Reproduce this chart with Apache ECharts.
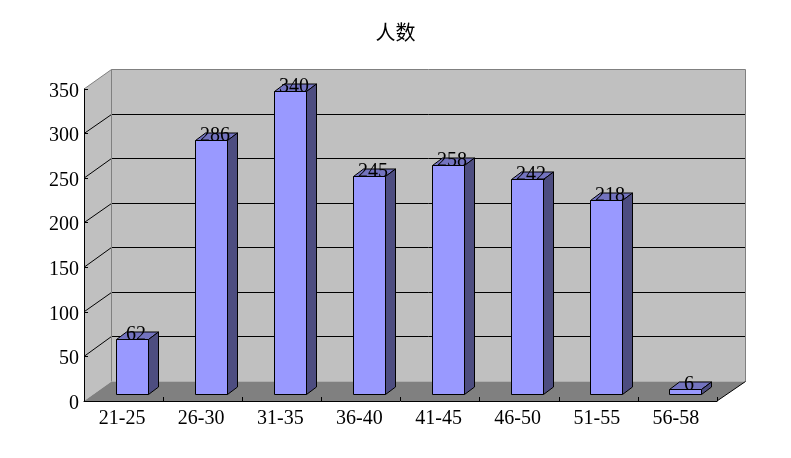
<!DOCTYPE html>
<html>
<head>
<meta charset="utf-8">
<style>html,body{margin:0;padding:0;background:#fff}#c{width:791px;height:458px}</style>
<script src="https://cdn.jsdelivr.net/npm/echarts@6/dist/echarts.min.js"></script>
</head>
<body>
<div id="c"></div>
<script>
const titleText = '人数';
const categories = ['21-25','26-30','31-35','36-40','41-45','46-50','51-55','56-58'];
const values = [62,286,340,245,258,242,218,6];
const yTicks = [0,50,100,150,200,250,300,350];

const wallDXL = 27, wallDXR = 28, wallDY = -20; // depth of the 3D box
const barDX = 10, barDY = -7.5;        // depth of one bar
const barOffX = 8, barOffY = -7;       // bar base set back from the front edge
const barWidth = 32;
const serif = '"Liberation Serif","DejaVu Serif",serif';
const crisp = v => Math.round(v) + 0.5;

function poly(points, fill, stroke) {
  return {type:'polygon', shape:{points}, style:{fill, stroke:stroke||null, lineWidth:1}};
}
function line(a, b, stroke) {
  return {type:'line', shape:{x1:a[0],y1:a[1],x2:b[0],y2:b[1]}, style:{stroke, lineWidth:1}};
}

function renderWalls(params, api) {
  const cs = params.coordSys;
  const L = cs.x, R = cs.x + cs.width, T = cs.y, B = cs.y + cs.height;
  const bL = crisp(L + wallDXL), bR = crisp(R + wallDXR), bT = crisp(T + wallDY), bB = crisp(B + wallDY);
  const children = [
    poly([[L,T],[bL,bT],[bL,bB],[L,B]], '#C0C0C0'),
    poly([[bL,bT],[bR,bT],[bR,bB],[bL,bB]], '#C0C0C0'),
    poly([[L,B],[bL,bB],[bR,bB],[R,B]], '#808080')
  ];
  yTicks.forEach(t => {
    if (t === 0 || t === yTicks[yTicks.length-1]) return;
    const y = api.coord([0,t])[1];
    children.push(line([L,y],[bL,crisp(y+wallDY)],'#000'));
    children.push(line([bL,crisp(y+wallDY)],[bR,crisp(y+wallDY)],'#000'));
  });
  children.push(line([L,T],[bL,bT],'#808080'));
  children.push(line([bL,bT],[bR,bT],'#808080'));
  children.push(line([bL,bT],[bL,bB],'#808080'));
  children.push(line([bR,bT],[bR,bB],'#808080'));
  children.push(line([R,B],[bR,bB],'#000'));
  return {type:'group', children};
}

function renderBar(params, api) {
  const i = api.value(0), v = api.value(1);
  const base = api.coord([i,0]), top = api.coord([i,v]);
  const x0 = Math.round(base[0] + barOffX - barWidth/2) + 0.5;
  const x1 = x0 + barWidth;
  const yB = Math.round(base[1] + barOffY) + 0.5;
  const yT = Math.round(top[1] + barOffY + 0.5) + 0.5;
  const stroke = '#000';
  return {type:'group', children:[
    poly([[x0,yT],[x0+barDX,yT+barDY],[x1+barDX,yT+barDY],[x1,yT]], '#7373BF', stroke),
    poly([[x1,yT],[x1+barDX,yT+barDY],[x1+barDX,yB+barDY],[x1,yB]], '#4D4D80', stroke),
    poly([[x0,yT],[x1,yT],[x1,yB],[x0,yB]], '#9999FF', stroke),
    {type:'text', style:{text:String(v), x:(x0+x1)/2+3.5, y:yT-4.5, align:'center', verticalAlign:'middle',
      font:'20px '+serif, fill:'#000'}}
  ]};
}

const chart = echarts.init(document.getElementById('c'), null, {renderer:'canvas'});
chart.setOption({
  animation:false,
  backgroundColor:'#fff',
  title:{text:titleText, left:'center', top:17, textStyle:{fontFamily:'"Noto Sans CJK SC"', fontSize:20, fontWeight:'normal', color:'#000'}},
  grid:{left:84, top:89, width:633, height:312},
  xAxis:{type:'category', data:categories, z:5,
    axisLine:{show:true,lineStyle:{color:'#000',width:1}},
    axisTick:{show:true,inside:true,length:4,lineStyle:{color:'#000'}},
    axisLabel:{fontFamily:serif,fontSize:20,color:'#000',margin:8,interval:0,padding:[0,3,0,0]},
    splitLine:{show:false}},
  yAxis:{type:'value', min:0, max:350, interval:50, z:5,
    axisLine:{show:true,lineStyle:{color:'#000',width:1}},
    axisTick:{show:true,inside:true,length:4,lineStyle:{color:'#000'}},
    axisLabel:{fontFamily:serif,fontSize:20,color:'#000',margin:5,verticalAlign:'top',lineHeight:5},
    splitLine:{show:false}},
  series:[
    {type:'custom', name:'walls', z:1, silent:true, renderItem:renderWalls, data:[[0,0]], encode:{x:0,y:1}},
    {type:'custom', name:titleText, z:3, silent:true, renderItem:renderBar,
      data:values.map((v,i)=>[i,v]), encode:{x:0,y:1}}
  ]
});
</script>
</body>
</html>
